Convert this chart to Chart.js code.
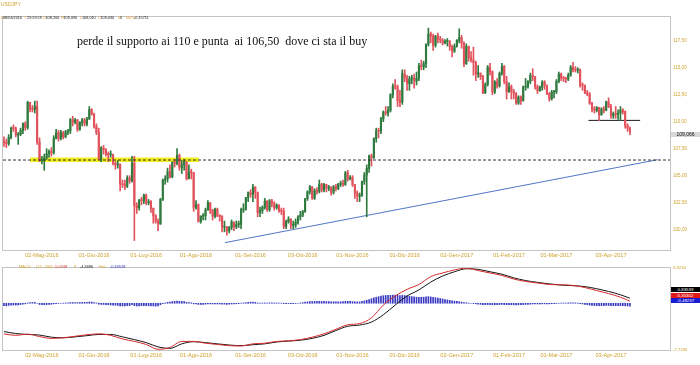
<!DOCTYPE html>
<html>
<head>
<meta charset="utf-8">
<script src="https://cdn.jsdelivr.net/npm/chart.js@4.4.0/dist/chart.umd.min.js"></script>
<style>
  body { margin: 0; background: #fff; width: 700px; height: 365px; overflow: hidden; position: relative; font-family: "Liberation Sans", Arial, sans-serif; }
  canvas { position: absolute; left: 0; }
  #main { top: 0; }
  #macd { top: 258px; }
  .t { position: absolute; white-space: pre; line-height: 1; }
  .g { color: #cfa22e; }
  .o { color: #e39a2a; }
  .k { color: #222; }
  .box { position: absolute; left: 671px; width: 29px; height: 5px; line-height: 5px; font-size: 4.4px; text-align: center; color: #fff; }
</style>
</head>
<body>
<canvas id="main" width="700" height="262"></canvas>
<canvas id="macd" width="700" height="107"></canvas>

<div class="t g" style="left:1px;top:2px;font-size:5px">USDJPY</div>
<div class="t" style="left:0;top:13px;font-size:3.8px">
<span class="t o" style="left:1px">D</span><span class="t k" style="left:3px">08/04/2016</span><span class="t o" style="left:24px">T</span><span class="t k" style="left:27px">23:59:59</span><span class="t o" style="left:43px">O</span><span class="t k" style="left:45.5px">108,200</span><span class="t o" style="left:61px">H</span><span class="t k" style="left:63.5px">109,090</span><span class="t o" style="left:80px">L</span><span class="t k" style="left:82px">108,010</span><span class="t o" style="left:98px">C</span><span class="t k" style="left:100.5px">109,030</span><span class="t o" style="left:118px">V</span><span class="t k" style="left:120px">0</span><span class="t o" style="left:126px">Var%</span><span class="t k" style="left:134px">-0,15711</span>
</div>

<div class="t" style="left:77px;top:35px;font-size:12px;font-family:'Liberation Serif','Times New Roman',serif;color:#111">perde il supporto ai 110 e punta  ai 106,50  dove ci sta il buy</div>

<div class="box" style="top:131.5px;background:#d8d8d8;color:#111;font-size:5px">109,066</div>

<div class="t" style="left:0;top:261.5px;font-size:3.9px">
<span class="t g" style="left:19px">MACD</span><span class="t g" style="left:36px">(12 , 200)</span><span class="t" style="left:54px;color:#d42a2a">-5,0749</span><span class="t g" style="left:74px">9</span><span class="t k" style="left:80px">-4,6696</span><span class="t g" style="left:99px">Hist</span><span class="t" style="left:110px;color:#2b2bb8">-0,40528</span>
</div>

<div class="box" style="top:287.3px;background:#000">0,83539</div>
<div class="box" style="top:292.6px;background:#e01818">0,35302</div>
<div class="box" style="top:297.8px;background:#1a1ad0">-0,48237</div>

<script>
// date ticks (bar index of the first trading day shown)
var tickIdx = [16, 38, 60, 81, 104, 126, 147, 169, 191, 213, 233, 256];
var tickLabels = ['02-Mag-2016', '01-Giu-2016', '01-Lug-2016', '01-Ago-2016', '01-Set-2016', '03-Ott-2016',
    '01-Nov-2016', '01-Dic-2016', '02-Gen-2017', '01-Feb-2017', '01-Mar-2017', '03-Apr-2017'];
var priceTicks = [100, 102.5, 105, 107.5, 110, 112.5, 115, 117.5];

// USDJPY daily, 08/04/2016 -> 13/04/2017
var opens = [
    108.20, 108.07, 107.97, 108.55, 109.38, 109.37, 108.76, 108.81, 109.17, 109.83,
    109.44, 111.79, 111.17, 111.12, 111.41, 108.12, 106.39, 106.41, 106.64, 107.03,
    107.26, 107.12, 108.45, 108.99, 108.45, 108.99, 108.60, 109.06, 109.14, 110.18,
    109.96, 110.16, 109.27, 109.94, 110.18, 109.78, 110.25, 111.12, 110.69, 109.56,
    109.00, 106.53, 107.56, 107.40, 106.96, 106.95, 106.96, 106.15, 106.00, 106.02,
    104.23, 104.16, 104.03, 104.80, 104.54, 106.17, 102.23, 102.03, 102.72, 102.70,
    103.20, 102.48, 102.59, 101.99, 101.27, 100.77, 100.52, 102.81, 104.61, 104.69,
    105.36, 104.88, 106.22, 106.15, 106.88, 105.77, 106.03, 106.29, 104.72, 105.31,
    105.30, 102.07, 102.31, 100.75, 101.24, 101.29, 101.82, 102.50, 101.79, 101.24,
    101.90, 101.27, 101.22, 100.24, 100.25, 99.89, 100.20, 100.72, 100.27, 100.48,
    100.51, 101.82, 101.91, 102.99, 103.43, 103.26, 103.93, 103.42, 101.58, 101.77,
    102.05, 102.65, 101.84, 102.67, 102.43, 102.03, 102.29, 101.73, 101.71, 100.30,
    100.74, 100.99, 100.41, 100.41, 100.67, 101.19, 101.35, 101.68, 102.87, 103.51,
    103.96, 102.91, 103.62, 103.55, 104.22, 103.67, 104.17, 103.85, 103.90, 103.45,
    103.98, 103.80, 104.21, 104.28, 104.18, 105.26, 104.70, 104.83, 104.17, 103.39,
    103.11, 103.12, 104.48, 105.07, 105.68, 106.84, 106.65, 108.44, 109.14, 109.13,
    110.25, 110.90, 110.80, 111.04, 112.48, 113.27, 113.24, 111.95, 111.81, 114.44,
    114.05, 113.52, 113.96, 114.01, 113.76, 114.02, 115.16, 115.08, 115.37, 117.17,
    118.12, 117.93, 117.08, 117.91, 117.62, 117.56, 117.28, 117.43, 117.46, 116.95,
    116.53, 116.96, 117.53, 117.81, 117.27, 115.36, 116.96, 115.92, 115.73, 115.46,
    114.42, 114.50, 114.17, 112.67, 113.42, 115.04, 114.62, 112.75, 113.69, 113.31,
    114.47, 115.11, 113.71, 112.77, 113.22, 112.80, 112.61, 111.72, 112.29, 111.93,
    113.20, 113.22, 113.71, 114.28, 114.16, 113.25, 112.88, 113.16, 113.67, 113.33,
    112.60, 112.11, 112.73, 112.77, 113.73, 114.42, 114.04, 113.98, 113.94, 114.31,
    115.04, 114.78, 114.77, 114.77, 113.36, 113.34, 112.69, 112.53, 111.72, 111.16,
    111.05, 111.32, 110.63, 111.17, 111.06, 111.85, 111.39, 110.55, 110.74, 110.68,
    110.78, 111.09, 110.93, 109.66, 109.40
];
var closes = [
    108.07, 107.97, 108.55, 109.38, 109.37, 108.76, 108.81, 109.17, 109.83, 109.44,
    111.79, 111.17, 111.12, 111.41, 108.12, 106.39, 106.41, 106.64, 107.03, 107.26,
    107.12, 108.45, 108.99, 108.45, 108.99, 108.60, 109.06, 109.14, 110.18, 109.96,
    110.16, 109.27, 109.94, 110.18, 109.78, 110.25, 111.12, 110.69, 109.56, 109.00,
    106.53, 107.56, 107.40, 106.96, 106.95, 106.96, 106.15, 106.00, 106.02, 104.23,
    104.16, 104.03, 104.80, 104.54, 106.17, 102.23, 102.03, 102.72, 102.70, 103.20,
    102.48, 102.59, 101.99, 101.27, 100.77, 100.52, 102.81, 104.61, 104.69, 105.36,
    104.88, 106.22, 106.15, 106.88, 105.77, 106.03, 106.29, 104.72, 105.31, 105.30,
    102.07, 102.31, 100.75, 101.24, 101.29, 101.82, 102.50, 101.79, 101.24, 101.90,
    101.27, 101.22, 100.24, 100.25, 99.89, 100.20, 100.72, 100.27, 100.48, 100.51,
    101.82, 101.91, 102.99, 103.43, 103.26, 103.93, 103.42, 101.58, 101.77, 102.05,
    102.65, 101.84, 102.67, 102.43, 102.03, 102.29, 101.73, 101.71, 100.30, 100.74,
    100.99, 100.41, 100.41, 100.67, 101.19, 101.35, 101.68, 102.87, 103.51, 103.96,
    102.91, 103.62, 103.55, 104.22, 103.67, 104.17, 103.85, 103.90, 103.45, 103.98,
    103.80, 104.21, 104.28, 104.18, 105.26, 104.70, 104.83, 104.17, 103.39, 103.11,
    103.12, 104.48, 105.07, 105.68, 106.84, 106.65, 108.44, 109.14, 109.13, 110.25,
    110.90, 110.80, 111.04, 112.48, 113.27, 113.24, 111.95, 111.81, 114.44, 114.05,
    113.52, 113.96, 114.01, 113.76, 114.02, 115.16, 115.08, 115.37, 117.17, 118.12,
    117.93, 117.08, 117.91, 117.62, 117.56, 117.28, 117.43, 117.46, 116.95, 116.53,
    116.96, 117.53, 117.81, 117.27, 115.36, 116.96, 115.92, 115.73, 115.46, 114.42,
    114.50, 114.17, 112.67, 113.42, 115.04, 114.62, 112.75, 113.69, 113.31, 114.47,
    115.11, 113.71, 112.77, 113.22, 112.80, 112.61, 111.72, 112.29, 111.93, 113.20,
    113.22, 113.71, 114.28, 114.16, 113.25, 112.88, 113.16, 113.67, 113.33, 112.60,
    112.11, 112.73, 112.77, 113.73, 114.42, 114.04, 113.98, 113.94, 114.31, 115.04,
    114.78, 114.77, 114.77, 113.36, 113.34, 112.69, 112.53, 111.72, 111.16, 111.05,
    111.32, 110.63, 111.17, 111.06, 111.85, 111.39, 110.55, 110.74, 110.68, 110.78,
    111.09, 110.93, 109.66, 109.40, 109.07
];
var highs = [
    108.6, 108.4, 108.8, 109.5, 109.7, 109.5, 109.0, 109.4, 109.9, 110.0,
    111.9, 111.8, 111.5, 111.9, 111.9, 108.5, 106.8, 107.0, 107.5, 107.4,
    107.6, 108.7, 109.3, 109.2, 109.2, 109.1, 109.2, 109.3, 110.3, 110.5,
    110.3, 110.2, 110.0, 110.3, 110.3, 110.4, 111.4, 111.2, 110.8, 109.8,
    109.4, 107.7, 107.8, 107.5, 107.2, 107.3, 107.0, 106.3, 106.4, 106.1,
    104.6, 104.6, 105.0, 105.0, 106.8, 106.8, 102.5, 102.8, 103.0, 103.3,
    103.3, 102.8, 102.7, 102.0, 101.4, 101.0, 102.9, 104.7, 105.0, 105.7,
    106.0, 106.3, 106.5, 107.5, 107.0, 106.4, 106.5, 106.3, 106.0, 105.6,
    105.3, 102.7, 102.4, 101.3, 101.5, 102.0, 102.7, 102.5, 101.9, 102.0,
    102.0, 101.4, 101.3, 100.8, 100.3, 100.3, 100.9, 100.7, 100.8, 100.8,
    102.0, 102.4, 103.0, 103.5, 103.7, 104.2, 104.0, 103.5, 102.1, 102.2,
    102.9, 102.7, 102.8, 102.8, 102.6, 102.4, 102.3, 102.0, 102.0, 100.9,
    101.2, 101.0, 100.8, 101.0, 101.3, 101.7, 101.8, 102.9, 103.6, 104.1,
    104.0, 103.8, 103.9, 104.6, 104.3, 104.3, 104.2, 104.1, 104.0, 104.1,
    104.2, 104.3, 104.5, 104.6, 105.4, 105.5, 105.0, 105.0, 104.2, 103.6,
    103.4, 104.5, 105.3, 106.0, 106.9, 107.0, 108.5, 109.4, 109.4, 110.4,
    111.0, 111.4, 111.4, 112.6, 113.5, 113.9, 113.4, 112.9, 114.8, 114.8,
    114.3, 114.2, 114.3, 114.4, 114.6, 115.4, 115.7, 115.6, 117.2, 118.66,
    118.3, 118.1, 118.0, 118.2, 117.9, 117.7, 117.6, 117.7, 117.5, 117.1,
    117.2, 117.6, 118.6, 118.0, 117.4, 117.2, 117.0, 116.5, 116.9, 115.6,
    115.2, 114.5, 114.3, 113.6, 115.2, 115.4, 114.7, 113.8, 114.0, 114.6,
    115.4, 115.2, 114.2, 113.6, 113.4, 113.0, 112.7, 112.4, 112.4, 113.3,
    114.0, 113.8, 114.5, 114.9, 114.2, 113.4, 113.3, 113.8, 113.8, 113.4,
    112.7, 112.9, 112.9, 113.9, 114.6, 114.5, 114.2, 114.1, 114.5, 115.2,
    115.5, 115.1, 115.0, 114.9, 113.6, 113.4, 112.9, 112.7, 111.8, 111.4,
    111.4, 111.3, 111.3, 111.4, 111.9, 112.2, 111.6, 110.9, 111.4, 111.1,
    111.4, 111.2, 111.0, 109.8, 109.5
];
var lows = [
    107.7, 107.6, 107.8, 108.4, 109.1, 108.6, 107.9, 108.7, 108.9, 109.2,
    109.3, 110.9, 110.9, 110.8, 107.9, 106.3, 106.1, 105.5, 106.5, 106.7,
    106.8, 107.0, 108.4, 108.2, 108.3, 108.4, 108.5, 108.8, 108.9, 109.6,
    109.8, 109.1, 109.2, 109.6, 109.6, 109.6, 110.2, 110.6, 109.4, 108.8,
    106.5, 106.3, 107.0, 106.8, 106.3, 106.7, 106.0, 105.6, 105.7, 103.6,
    103.9, 103.7, 103.9, 104.3, 104.4, 99.0, 101.5, 101.8, 102.3, 102.4,
    102.3, 102.3, 101.6, 100.6, 100.6, 99.9, 100.5, 102.7, 104.2, 104.4,
    104.8, 104.8, 105.8, 106.0, 105.5, 105.2, 105.5, 104.6, 104.7, 104.7,
    101.7, 101.9, 100.7, 100.6, 100.9, 100.9, 101.8, 101.5, 100.9, 101.1,
    101.2, 100.8, 99.8, 99.8, 99.5, 99.7, 100.0, 99.9, 100.1, 100.2,
    100.1, 101.6, 101.8, 102.6, 103.0, 102.6, 102.9, 101.2, 101.2, 101.5,
    101.9, 101.7, 101.7, 102.1, 101.8, 101.9, 101.6, 101.4, 100.1, 100.1,
    100.6, 100.1, 100.1, 100.2, 100.5, 100.9, 101.2, 101.6, 102.7, 103.3,
    102.8, 102.8, 103.3, 103.4, 103.5, 103.5, 103.5, 103.6, 103.2, 103.3,
    103.6, 103.7, 104.0, 104.0, 104.1, 104.5, 104.6, 104.0, 102.9, 102.6,
    102.6, 103.1, 104.2, 101.2, 105.3, 105.9, 106.6, 108.1, 108.5, 108.9,
    110.0, 110.6, 110.5, 110.9, 112.2, 113.0, 111.4, 111.4, 111.6, 113.7,
    112.9, 112.9, 113.5, 113.1, 113.4, 113.8, 114.8, 114.8, 115.0, 117.0,
    117.3, 116.6, 116.9, 117.3, 117.3, 117.1, 117.2, 117.0, 116.6, 116.0,
    116.4, 116.9, 117.3, 116.8, 115.1, 115.3, 115.6, 115.5, 114.3, 113.8,
    114.1, 113.9, 112.6, 112.6, 113.3, 114.3, 112.5, 112.6, 113.1, 113.2,
    114.3, 113.5, 112.1, 112.7, 112.1, 112.1, 111.6, 111.6, 111.6, 111.9,
    112.9, 113.1, 113.5, 113.8, 113.0, 112.6, 112.8, 112.9, 113.0, 112.5,
    111.9, 112.0, 112.2, 112.6, 113.6, 113.8, 113.7, 113.6, 113.8, 114.2,
    114.6, 114.6, 114.5, 113.2, 112.9, 112.6, 112.4, 111.6, 110.9, 110.8,
    110.9, 110.1, 110.6, 110.8, 111.0, 111.3, 110.3, 110.3, 110.3, 110.2,
    110.1, 110.7, 109.4, 109.1, 108.8
];

// drawn levels, in (bar index, price)
var targetLevel = 106.45;
var supportZoneX = [11, 82.2];
var supportZoneY = 106.47;
var trendX = [93.2, 275.7];
var trendY = [98.8, 106.48];
var breakX = [246.5, 268.3];
var breakY = 110.12;

// MACD panel
var macdIdx = [0, 5, 10, 15, 20, 25, 30, 35, 40, 45, 50, 55, 60, 65, 70, 75, 80, 85, 90, 95,
    100, 105, 110, 115, 120, 125, 130, 135, 140, 145, 150, 155, 160, 165, 170, 175, 180, 185, 190, 195,
    200, 205, 210, 215, 220, 225, 230, 235, 240, 245, 250, 255, 260, 264];
var macdLine = [-5.07, -5.3, -5.1, -5.5, -5.8, -5.7, -5.45, -5.2, -5.05, -5.3, -5.9, -6.3, -6.8, -7.6, -7.3, -6.3, -6.3, -6.6, -6.8, -7.0,
    -7.05, -6.7, -6.6, -6.3, -6.2, -6.0, -5.6, -5.05, -4.3, -3.55, -3.35, -2.4, -0.3, 1.2, 2.3, 3.1, 4.4, 5.0, 5.5, 5.8,
    5.4, 5.0, 4.6, 4.0, 3.6, 3.35, 3.1, 3.05, 2.95, 2.6, 2.1, 1.6, 1.0, 0.35];
var signalLine = [-4.67, -5.0, -5.15, -5.25, -5.6, -5.7, -5.55, -5.35, -5.15, -5.15, -5.55, -6.0, -6.5, -7.2, -7.45, -6.7, -6.35, -6.5, -6.7, -6.9,
    -7.0, -6.85, -6.7, -6.4, -6.25, -6.1, -5.8, -5.3, -4.5, -3.8, -3.6, -3.1, -1.9, -0.3, 1.2, 2.2, 3.5, 4.5, 5.2, 5.7,
    5.6, 5.2, 4.8, 4.2, 3.75, 3.45, 3.2, 3.0, 2.9, 2.75, 2.4, 1.95, 1.4, 0.84];
var histVals = [
    -0.40, -0.42, -0.35, -0.30, -0.30, -0.30, -0.28, -0.22, -0.15, -0.10,
    0.05, 0.10, 0.12, 0.15, 0.0, -0.20, -0.25, -0.25, -0.22, -0.20,
    -0.18, -0.10, -0.05, -0.02, 0.0, 0.02, 0.05, 0.08, 0.12, 0.12,
    0.12, 0.10, 0.12, 0.14, 0.15, 0.15, 0.20, 0.20, 0.12, 0.05,
    -0.15, -0.18, -0.20, -0.22, -0.25, -0.28, -0.30, -0.32, -0.35, -0.45,
    -0.45, -0.45, -0.40, -0.38, -0.25, -0.40, -0.45, -0.42, -0.40, -0.38,
    -0.40, -0.40, -0.42, -0.45, -0.48, -0.45, -0.25, -0.05, 0.05, 0.15,
    0.20, 0.28, 0.32, 0.38, 0.32, 0.30, 0.28, 0.15, 0.12, 0.08,
    -0.10, -0.12, -0.20, -0.20, -0.18, -0.15, -0.10, -0.10, -0.12, -0.10,
    -0.12, -0.12, -0.15, -0.15, -0.18, -0.15, -0.12, -0.10, -0.08, -0.06,
    0.02, 0.05, 0.10, 0.15, 0.18, 0.18, 0.15, 0.05, 0.04, 0.04,
    0.05, 0.05, 0.06, 0.06, 0.05, 0.05, 0.04, 0.02, -0.05, -0.05,
    -0.04, -0.05, -0.05, -0.03, 0.0, 0.05, 0.10, 0.18, 0.22, 0.28,
    0.28, 0.30, 0.30, 0.32, 0.30, 0.30, 0.28, 0.28, 0.25, 0.25,
    0.25, 0.24, 0.24, 0.28, 0.32, 0.32, 0.30, 0.28, 0.25, 0.22,
    0.22, 0.30, 0.40, 0.50, 0.62, 0.75, 0.90, 1.00, 1.10, 1.20,
    1.25, 1.28, 1.30, 1.32, 1.35, 1.35, 1.30, 1.25, 1.30, 1.28,
    1.22, 1.15, 1.10, 1.05, 1.00, 1.00, 1.00, 1.00, 1.05, 1.10,
    1.05, 0.98, 0.92, 0.85, 0.78, 0.70, 0.62, 0.55, 0.48, 0.40,
    0.35, 0.30, 0.25, 0.20, 0.12, 0.08, 0.04, 0.0, -0.05, -0.10,
    -0.15, -0.18, -0.22, -0.24, -0.22, -0.22, -0.25, -0.25, -0.24, -0.22,
    -0.20, -0.22, -0.24, -0.25, -0.25, -0.25, -0.26, -0.26, -0.25, -0.22,
    -0.20, -0.18, -0.15, -0.12, -0.12, -0.12, -0.12, -0.10, -0.10, -0.10,
    -0.10, -0.08, -0.06, -0.04, 0.0, 0.02, 0.04, 0.05, 0.06, 0.08,
    0.08, 0.06, 0.04, -0.05, -0.12, -0.18, -0.24, -0.30, -0.34, -0.38,
    -0.38, -0.40, -0.40, -0.38, -0.36, -0.36, -0.38, -0.40, -0.40, -0.40,
    -0.40, -0.40, -0.42, -0.46, -0.48
];
var macdMin = -7.7186, macdMax = 5.8234;

var GOLD = '#cfa22e';
var UP = '#2f7a3e', DOWN = '#e2525c';
var X_MIN = -0.4, X_MAX = 280.9;

var panelBorder = {
    id: 'panelBorder',
    afterDatasetsDraw: function (chart) {
        var a = chart.chartArea, ctx = chart.ctx;
        ctx.save();
        ctx.strokeStyle = '#c4c4c4';
        ctx.lineWidth = 1;
        ctx.strokeRect(a.left - 0.5, a.top - 0.5, a.right - a.left + 1, a.bottom - a.top + 1);
        ctx.restore();
    }
};

function dateAxis(h) {
    return {
        type: 'linear', min: X_MIN, max: X_MAX, offset: false,
        grid: { display: false, drawTicks: false },
        border: { display: false },
        afterBuildTicks: function (s) { s.ticks = tickIdx.map(function (v) { return { value: v }; }); },
        afterFit: function (s) { s.height = h; },
        ticks: {
            autoSkip: false, maxRotation: 0, padding: 2, color: GOLD,
            font: { family: 'Liberation Sans', size: 5.6 },
            callback: function (v, i) { return tickLabels[i]; }
        }
    };
}

function segment(xs, ys) {
    return [{ x: xs[0], y: ys[0] }, { x: xs[1], y: ys[1] }];
}

var candleColor = closes.map(function (c, i) { return c >= opens[i] ? UP : DOWN; });

new Chart(document.getElementById('main'), {
    type: 'bar',
    data: {
        datasets: [
            { type: 'line', data: segment([X_MIN, X_MAX], [targetLevel, targetLevel]), borderColor: '#333',
              borderWidth: 1, borderDash: [3, 2], pointRadius: 0 },
            { type: 'bar', data: closes.map(function (c, i) { return { x: i, y: [opens[i], c] }; }),
              backgroundColor: candleColor, barThickness: 1.5, grouped: false, minBarLength: 1 },
            { type: 'bar', data: highs.map(function (h, i) { return { x: i, y: [lows[i], h] }; }),
              backgroundColor: candleColor, barThickness: 1, grouped: false },
            { type: 'line', data: segment(breakX, [breakY, breakY]), borderColor: '#1a1a1a', borderWidth: 1, pointRadius: 0 },
            { type: 'line', data: segment(trendX, trendY), borderColor: '#4f76c6', borderWidth: 1, pointRadius: 0 },
            { type: 'line', data: segment(supportZoneX, [supportZoneY, supportZoneY]), borderColor: '#f2ee1c',
              borderWidth: 4.5, borderCapStyle: 'butt', pointRadius: 0 }
        ]
    },
    options: {
        responsive: false, animation: false, events: [],
        layout: { padding: { left: 3, top: 17, right: 0, bottom: 0 } },
        plugins: { legend: { display: false }, tooltip: { enabled: false } },
        scales: {
            x: dateAxis(12),
            y: {
                position: 'right', min: 98.12, max: 119.69,
                grid: { display: false, drawTicks: false },
                border: { display: false },
                afterBuildTicks: function (s) { s.ticks = priceTicks.map(function (v) { return { value: v }; }); },
                afterFit: function (s) { s.width = 30; },
                ticks: {
                    padding: 3, color: GOLD, font: { family: 'Liberation Sans', size: 4.6 },
                    callback: function (v) { return v.toFixed(2).replace('.', ','); }
                }
            }
        }
    },
    plugins: [panelBorder]
});

new Chart(document.getElementById('macd'), {
    type: 'bar',
    data: {
        datasets: [
            { type: 'line', data: macdIdx.map(function (x, i) { return { x: x, y: macdLine[i] }; }),
              borderColor: '#d42a2a', borderWidth: 1, pointRadius: 0, cubicInterpolationMode: 'monotone' },
            { type: 'line', data: macdIdx.map(function (x, i) { return { x: x, y: signalLine[i] }; }),
              borderColor: '#151515', borderWidth: 1, pointRadius: 0, cubicInterpolationMode: 'monotone' },
            { type: 'bar', data: histVals.map(function (v, i) { return { x: i, y: v }; }),
              backgroundColor: '#3b3bc2', barThickness: 1, grouped: false }
        ]
    },
    options: {
        responsive: false, animation: false, events: [],
        layout: { padding: { left: 3, top: 10, right: 0, bottom: 0 } },
        plugins: { legend: { display: false }, tooltip: { enabled: false } },
        scales: {
            x: dateAxis(15),
            y: {
                position: 'right', min: macdMin, max: macdMax,
                grid: { display: false, drawTicks: false },
                border: { display: false },
                afterBuildTicks: function (s) { s.ticks = [{ value: macdMin }, { value: macdMax }]; },
                afterFit: function (s) { s.width = 30; },
                ticks: {
                    padding: 3, color: GOLD, font: { family: 'Liberation Sans', size: 4.2 },
                    callback: function (v) { return v.toFixed(4).replace('.', ','); }
                }
            }
        }
    },
    plugins: [panelBorder]
});
</script>
</body>
</html>
